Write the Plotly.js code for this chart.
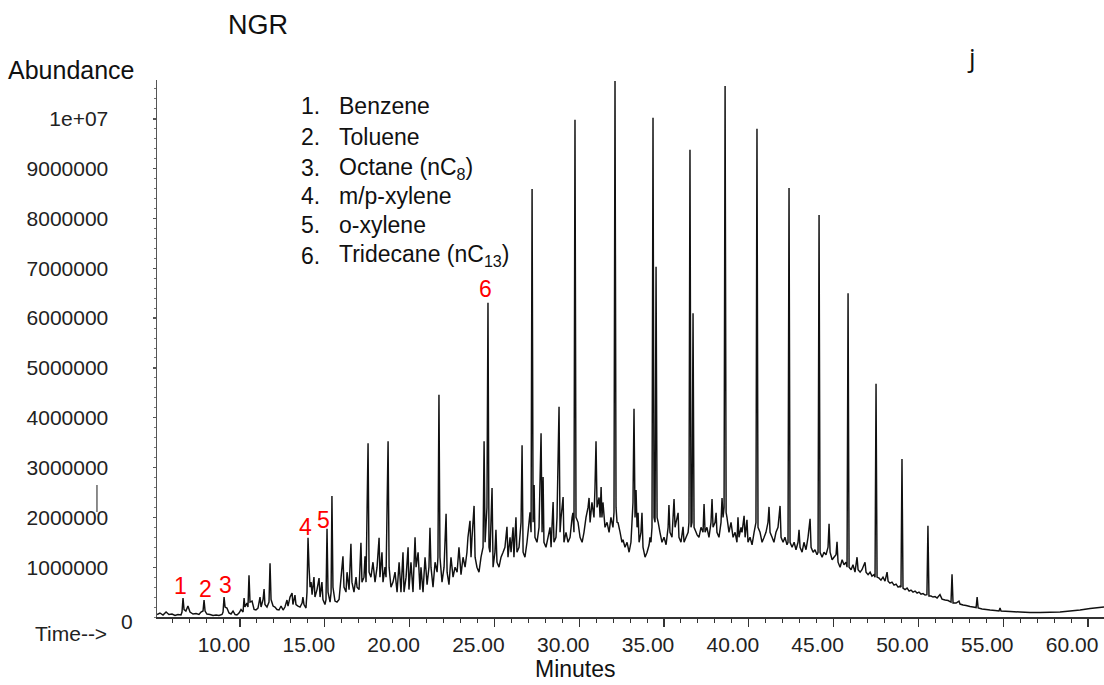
<!DOCTYPE html>
<html>
<head>
<meta charset="utf-8">
<script src="https://cdn.plot.ly/plotly-3.0.1.min.js"></script>
<style>html,body{margin:0;padding:0;background:#fff;}#chart{width:1104px;height:685px;}</style>
</head>
<body>
<div id="chart"></div>
<script>
// Retention time (minutes)
const timeMin = [
5.11,5.28,5.46,5.64,5.81,5.99,6.17,6.34,6.52,6.58,6.64,6.70,6.81,6.93,7.05,7.23,7.41,7.58,7.70,7.82,
7.88,7.94,8.05,8.23,8.41,8.59,8.76,8.94,9.00,9.06,9.12,9.23,9.35,9.47,9.59,9.71,9.82,9.94,10.06,10.18,
10.24,10.29,10.41,10.47,10.53,10.59,10.71,10.83,10.94,11.06,11.18,11.24,11.36,11.42,11.47,11.59,11.71,11.77,11.83,11.95,
12.06,12.18,12.30,12.42,12.54,12.65,12.77,12.83,12.95,13.07,13.12,13.24,13.30,13.42,13.54,13.66,13.71,13.77,13.89,13.95,
14.01,14.07,14.13,14.19,14.25,14.36,14.42,14.54,14.66,14.72,14.83,14.89,15.01,15.07,15.13,15.19,15.31,15.37,15.42,15.48,
15.60,15.72,15.84,15.96,16.07,16.13,16.25,16.31,16.43,16.54,16.60,16.72,16.84,16.90,17.02,17.13,17.19,17.31,17.37,17.43,
17.55,17.61,17.72,17.84,17.96,18.08,18.20,18.25,18.37,18.43,18.55,18.61,18.73,18.79,18.90,19.02,19.14,19.26,19.38,19.49,
19.61,19.67,19.79,19.91,19.96,20.08,20.20,20.32,20.38,20.50,20.61,20.67,20.79,20.91,21.03,21.14,21.20,21.26,21.38,21.50,
21.62,21.67,21.73,21.79,21.91,22.03,22.15,22.21,22.32,22.44,22.56,22.68,22.80,22.91,23.03,23.15,23.27,23.38,23.44,23.56,
23.62,23.68,23.80,23.86,23.97,24.09,24.21,24.33,24.39,24.45,24.56,24.62,24.68,24.74,24.86,24.92,25.03,25.09,25.15,25.27,
25.39,25.51,25.62,25.74,25.80,25.92,25.98,26.10,26.15,26.27,26.33,26.45,26.57,26.63,26.69,26.80,26.92,27.04,27.10,27.16,
27.22,27.28,27.34,27.39,27.51,27.63,27.75,27.81,27.87,27.92,28.04,28.16,28.28,28.34,28.46,28.51,28.63,28.69,28.81,28.87,
28.93,29.05,29.10,29.22,29.34,29.46,29.58,29.63,29.69,29.75,29.81,29.93,30.05,30.17,30.28,30.40,30.52,30.58,30.64,30.75,
30.87,30.93,30.99,31.05,31.17,31.23,31.29,31.34,31.40,31.52,31.64,31.76,31.87,31.99,32.05,32.11,32.17,32.23,32.29,32.41,
32.52,32.58,32.70,32.82,32.94,33.05,33.11,33.17,33.23,33.29,33.35,33.41,33.47,33.53,33.64,33.70,33.76,33.88,34.00,34.12,
34.17,34.23,34.29,34.35,34.41,34.47,34.53,34.59,34.65,34.76,34.88,35.00,35.12,35.24,35.29,35.35,35.47,35.59,35.65,35.71,
35.83,35.88,36.00,36.12,36.18,36.30,36.42,36.47,36.53,36.59,36.65,36.71,36.77,36.89,36.95,37.06,37.18,37.30,37.36,37.42,
37.53,37.65,37.77,37.83,37.89,38.01,38.07,38.12,38.24,38.36,38.42,38.48,38.54,38.60,38.66,38.71,38.83,38.95,39.07,39.19,
39.30,39.36,39.42,39.54,39.60,39.72,39.78,39.89,39.95,40.07,40.19,40.31,40.42,40.48,40.54,40.66,40.78,40.90,41.01,41.13,
41.19,41.25,41.37,41.48,41.60,41.72,41.84,41.90,42.02,42.13,42.25,42.31,42.37,42.43,42.55,42.67,42.78,42.90,42.96,43.02,
43.14,43.25,43.37,43.49,43.61,43.67,43.79,43.90,44.02,44.08,44.14,44.20,44.32,44.43,44.55,44.67,44.73,44.79,44.91,45.02,
45.14,45.20,45.26,45.38,45.50,45.61,45.73,45.79,45.85,45.91,46.03,46.14,46.26,46.38,46.44,46.56,46.67,46.85,46.91,47.03,
47.15,47.26,47.38,47.44,47.50,47.56,47.68,47.79,47.91,48.03,48.15,48.21,48.32,48.44,48.56,48.68,48.80,48.91,48.97,49.03,
49.09,49.21,49.33,49.45,49.56,49.68,49.80,49.92,50.03,50.15,50.27,50.39,50.50,50.56,50.62,50.74,50.86,50.98,51.10,51.27,
51.39,51.57,51.75,51.86,51.92,51.98,52.04,52.22,52.39,52.45,52.63,52.81,53.04,53.22,53.40,53.46,53.52,53.75,53.99,54.22,
54.52,54.75,54.81,54.87,55.40,55.99,56.58,57.17,57.76,58.35,58.94,59.53,60.12,60.94
];
// Abundance (millions of counts)
const abundanceM = [
0.05,0.08,0.04,0.10,0.05,0.06,0.03,0.05,0.04,0.10,0.38,0.15,0.12,0.22,0.10,0.06,0.07,0.05,0.10,0.12,
0.34,0.12,0.06,0.05,0.03,0.04,0.03,0.05,0.10,0.40,0.20,0.18,0.08,0.06,0.12,0.05,0.04,0.08,0.15,0.10,
0.38,0.20,0.28,0.20,0.84,0.30,0.32,0.15,0.14,0.18,0.40,0.20,0.35,0.56,0.25,0.20,0.30,1.08,0.35,0.22,
0.20,0.15,0.14,0.22,0.14,0.20,0.34,0.22,0.40,0.48,0.25,0.44,0.25,0.22,0.20,0.28,0.40,0.25,0.18,0.50,
1.59,1.00,0.60,0.70,0.45,0.80,0.40,0.55,0.78,0.40,0.70,0.35,0.25,0.35,1.77,0.50,0.30,0.50,2.43,0.60,
0.32,0.30,0.35,0.80,1.22,0.60,0.50,0.90,0.55,1.47,0.70,0.50,0.80,0.60,0.55,1.49,0.70,0.80,1.22,0.70,
3.49,0.90,0.80,1.10,0.70,1.00,1.59,0.80,1.30,0.70,1.00,0.80,3.53,1.00,0.60,0.70,0.90,0.50,1.10,0.50,
1.30,0.50,0.80,1.40,0.55,1.10,0.50,1.60,1.00,1.30,0.55,1.00,0.50,1.20,0.65,1.00,1.79,1.00,0.60,1.10,
0.90,1.20,4.46,1.20,0.70,1.00,2.07,0.90,0.65,1.20,0.80,1.00,0.90,1.40,0.85,1.20,1.00,1.30,1.60,1.93,
1.20,1.60,2.23,1.20,1.00,0.90,1.20,1.40,3.53,1.50,2.20,6.31,1.40,1.30,2.59,1.00,1.30,1.75,1.10,1.00,
1.20,1.30,1.40,1.81,1.20,1.60,1.30,1.80,1.20,2.00,1.30,1.40,1.90,3.45,1.30,1.20,1.50,1.90,2.10,1.70,
8.59,1.90,2.65,1.60,1.50,1.80,3.69,1.70,2.81,1.50,1.40,1.60,1.80,1.40,2.31,1.50,1.60,2.00,4.22,1.70,
2.00,2.41,1.50,1.70,1.50,1.60,2.00,2.09,1.70,9.98,2.00,1.90,1.60,1.50,1.70,2.00,2.20,2.39,1.90,2.30,
2.00,2.60,3.53,2.20,2.40,2.00,2.61,2.00,2.30,1.80,1.90,1.70,2.00,1.80,2.10,10.76,2.20,1.90,1.89,1.70,
1.50,1.55,1.40,1.50,1.30,1.50,1.90,2.30,4.18,2.00,2.55,1.80,2.09,1.50,1.70,2.09,1.40,1.20,1.30,1.45,
1.60,1.50,1.80,10.02,2.00,1.90,7.03,2.00,1.91,1.70,1.50,1.60,1.45,1.80,2.25,1.70,1.60,2.37,1.80,1.90,
2.09,1.60,1.50,1.81,1.50,1.60,1.70,1.90,9.38,1.80,1.90,6.10,1.80,1.70,1.65,1.60,1.80,1.70,2.27,1.70,
1.80,1.60,1.90,2.37,1.80,1.90,2.09,1.70,1.60,1.90,2.39,2.00,2.20,10.66,2.10,2.00,1.70,1.90,1.60,1.70,
1.50,2.00,1.60,1.80,1.70,2.03,1.60,1.95,1.50,1.60,1.45,1.70,1.90,9.80,1.80,1.70,1.50,1.60,1.70,1.90,
2.21,1.70,1.60,1.50,1.70,1.80,2.23,1.60,1.50,1.60,1.45,1.50,8.61,1.50,1.40,1.50,1.35,1.50,1.75,1.40,
1.30,1.50,1.35,1.60,1.97,1.40,1.30,1.35,1.25,1.30,8.07,1.30,1.20,1.30,1.25,1.40,1.87,1.30,1.15,1.20,
1.25,1.51,1.10,1.00,1.15,1.05,1.10,1.00,6.50,1.00,0.95,1.05,0.90,1.20,0.95,0.90,0.95,1.10,0.90,0.85,
0.90,0.82,0.85,0.80,4.68,0.80,0.78,0.74,0.80,0.72,0.90,0.72,0.68,0.70,0.64,0.66,0.60,0.62,0.60,3.17,
0.58,0.55,0.58,0.52,0.54,0.50,0.52,0.48,0.50,0.46,0.47,0.44,0.45,1.83,0.42,0.42,0.40,0.41,0.38,0.45,
0.36,0.34,0.33,0.31,0.30,0.86,0.28,0.28,0.32,0.26,0.24,0.23,0.21,0.20,0.19,0.40,0.18,0.16,0.15,0.14,
0.13,0.12,0.18,0.12,0.11,0.10,0.09,0.09,0.095,0.10,0.12,0.14,0.17,0.20
];

const yTickVals = [1,2,3,4,5,6,7,8,9,10];
const yTickText = ["1000000","2000000","3000000","4000000","5000000","6000000","7000000","8000000","9000000","1e+07"];

const compoundNums = ["1.","2.","3.","4.","5.","6."];
const compoundNames = ["Benzene","Toluene","Octane (nC<sub>8</sub>)","m/p-xylene","o-xylene","Tridecane (nC<sub>13</sub>)"];
const peakLabels = ["1","2","3","4","5","6"];
const peakLabelTime = [6.52,7.94,9.17,13.89,14.95,24.50];
const peakLabelAbund = [0.62,0.56,0.64,1.81,1.95,6.58];

const FONT = "Liberation Sans, Arial, Helvetica, sans-serif";

const trace = {
  x: timeMin, y: abundanceM, type: "scatter", mode: "lines",
  line: {color: "#111", width: 1.45, simplify: false},
  hoverinfo: "skip"
};

const annotations = [];
const legendY = [0.9516,0.8939,0.8361,0.7840,0.7300,0.6723];
compoundNums.forEach((n,i)=>{
  annotations.push({xref:"paper",yref:"paper",x:0.1499,y:legendY[i],text:n,showarrow:false,
    xanchor:"left",yanchor:"middle",font:{family:FONT,size:23,color:"#111"}});
  annotations.push({xref:"paper",yref:"paper",x:0.1901,y:legendY[i],text:compoundNames[i],showarrow:false,
    xanchor:"left",yanchor:"middle",font:{family:FONT,size:23,color:"#111"}});
});
peakLabels.forEach((t,i)=>{
  annotations.push({xref:"x",yref:"y",x:peakLabelTime[i],y:peakLabelAbund[i],text:t,showarrow:false,
    xanchor:"center",yanchor:"middle",font:{family:FONT,size:23,color:"#ff0000"}});
});
annotations.push(
  {xref:"paper",yref:"paper",x:0.1067,y:1.1024,text:"NGR",showarrow:false,xanchor:"center",yanchor:"middle",font:{family:FONT,size:27,color:"#111"}},
  {xref:"paper",yref:"paper",x:-0.1594,y:1.0186,text:"Abundance",showarrow:false,xanchor:"left",yanchor:"middle",font:{family:FONT,size:25,color:"#111"}},
  {xref:"paper",yref:"paper",x:0.8596,y:1.0428,text:"j",showarrow:false,xanchor:"center",yanchor:"middle",font:{family:"Open Sans, sans-serif",size:26,color:"#111"}},
  {xref:"paper",yref:"paper",x:-0.0317,y:-0.0093,text:"0",showarrow:false,xanchor:"center",yanchor:"middle",font:{family:FONT,size:21,color:"#222"}},
  {xref:"paper",yref:"paper",x:-0.1309,y:-0.0298,text:"Time-->",showarrow:false,xanchor:"left",yanchor:"middle",font:{family:FONT,size:21,color:"#222"}},
  {xref:"paper",yref:"paper",x:0.4414,y:-0.0968,text:"Minutes",showarrow:false,xanchor:"center",yanchor:"middle",font:{family:FONT,size:23,color:"#111"}}
);

const layout = {
  width: 1104, height: 685,
  margin: {l:157, r:0, t:80, b:68, pad:0},
  paper_bgcolor: "#fff", plot_bgcolor: "#fff",
  showlegend: false,
  xaxis: {
    range: [5.106, 60.94], showgrid:false, zeroline:false,
    showline:true, linecolor:"#333", linewidth:1.5,
    ticks:"outside", ticklen:8, tickwidth:1.3, tickcolor:"#333",
    tick0:0, dtick:5, tickformat:".2f", ticklabelshift:-16,
    tickfont:{family:FONT,size:21,color:"#222"},
    minor:{tick0:0, dtick:1, ticks:"outside", ticklen:4, tickwidth:1, tickcolor:"#333", showgrid:false}
  },
  yaxis: {
    range: [0, 10.78], showgrid:false, zeroline:false,
    showline:true, linecolor:"#555", linewidth:1.5,
    ticks:"outside", ticklen:3, tickwidth:1.3, tickcolor:"#555",
    tickmode:"array", tickvals:yTickVals, ticktext:yTickText,
    ticklabelstandoff:40,
    tickfont:{family:FONT,size:21,color:"#222"},
    minor:{tickmode:"linear", tick0:0, dtick:0.2, ticks:"outside", ticklen:2, tickwidth:1, tickcolor:"#777", showgrid:false}
  },
  annotations: annotations,
  shapes: [
    {type:"line", xref:"paper", yref:"paper", x0:-0.0634, x1:-0.0634, y0:0.2458, y1:0.1955,
     line:{color:"#666", width:1.5}}
  ]
};

Plotly.newPlot("chart", [trace], layout, {staticPlot:true, displayModeBar:false});
</script>
</body>
</html>
